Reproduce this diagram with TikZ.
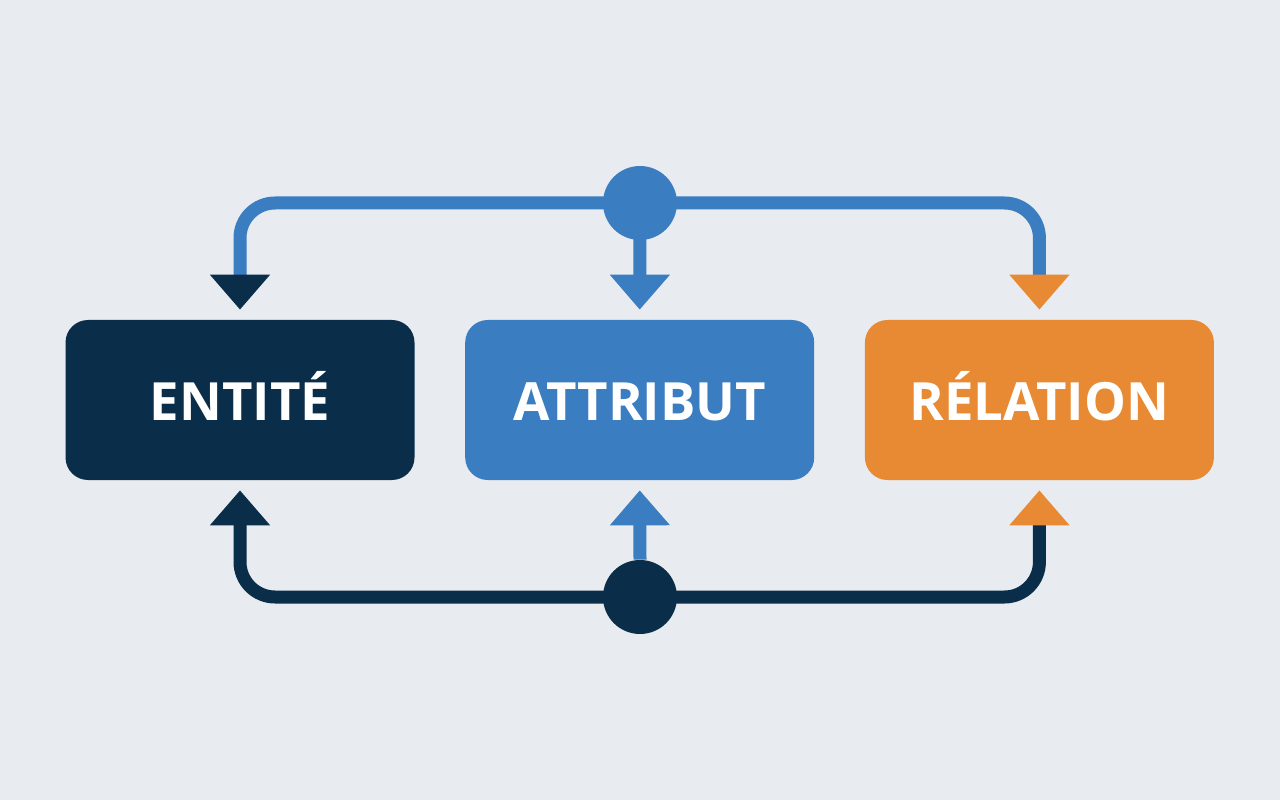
\documentclass[tikz,border=0pt]{standalone}
\usepackage{fontspec}
\setmainfont{Open Sans}
\usetikzlibrary{positioning,arrows.meta}
\definecolor{navy}{HTML}{0A2D4A}
\definecolor{steel}{HTML}{3A7DC0}
\definecolor{amber}{HTML}{E88A33}
\definecolor{paper}{HTML}{E8EBF0}
\begin{document}
\begin{tikzpicture}
[
box/.style={rounded corners=4.5mm, minimum width=69.8mm, minimum height=32mm, text=white, text height=8.4mm, text depth=0mm, font=\fontsize{30}{34}\selectfont\bfseries},
hub/.style={circle, minimum size=14.8mm, inner sep=0pt},
link/.style={line width=2.6mm, rounded corners=7mm},
tip/.style={-{Triangle[width=11.6mm, length=7mm, color=#1]}, shorten >=2mm}
]

\fill [paper] (0,0) rectangle (25.6,-16);

\node (entite)   [box, fill=navy]                         at (4.8,-8) {ENTITÉ};
\node (attribut) [box, fill=steel, right = 10mm of entite]   {ATTRIBUT};
\node (relation) [box, fill=amber, right = 10mm of attribut] {RÉLATION};
\node (hub-top)  [hub, fill=steel] at (12.8,-4.06) {};
\node (hub-bot)  [hub, fill=navy]  at (12.8,-11.94) {};

% upper links
\draw [link, steel, tip=navy]  (hub-top.center) -| (entite.north);
\draw [link, steel, tip=amber] (hub-top.center) -| (relation.north);
\draw [link, steel, tip=steel] (hub-top.center) -- (attribut.north);

% lower links
\draw [link, navy, tip=navy]  (hub-bot.center) -| (entite.south);
\draw [link, navy, tip=amber] (hub-bot.center) -| (relation.south);
\draw [link, steel, tip=steel] (hub-bot.north) -- (attribut.south);

\end{tikzpicture}
\end{document}
